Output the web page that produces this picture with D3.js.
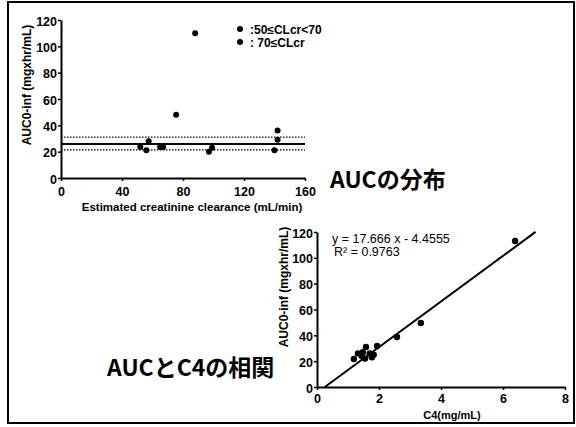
<!DOCTYPE html>
<html lang="ja">
<head>
<meta charset="UTF-8">
<title>AUC</title>
<script src="https://d3js.org/d3.v7.min.js"></script>
<style>
  body { margin: 0; background: #fff; }
  svg text { font-family: "Liberation Sans", Arial, sans-serif; font-weight: bold; fill: #000; }
  svg text.plain { font-weight: normal; }
  .jp { font-family: "Noto Sans CJK JP", sans-serif; }
</style>
</head>
<body>
<script>
// top chart: AUC vs estimated creatinine clearance
const clcrLow = [52, 56, 57.5, 65, 67];
const aucLow = [23.5, 21, 28, 23.5, 23.5];
const clcrHigh = [75.5, 88, 97, 99, 140, 142, 142];
const aucHigh = [48, 110, 20, 23, 21, 36, 29];
const meanLine = 25.8;
const sdLines = [31, 21.3];
const legendLabels = [":50≤CLcr<70", ": 70≤CLcr"];
const topXTicks = [0, 40, 80, 120, 160];
const yTicks = [0, 20, 40, 60, 80, 100, 120];

// bottom chart: AUC vs C4
const c4 = [1.19, 1.32, 1.44, 1.48, 1.55, 1.58, 1.7, 1.77, 1.83, 1.94, 2.58, 3.35, 6.39];
const aucC4 = [21.7, 26, 24, 27, 22, 31, 26, 23, 25, 31.7, 38.7, 49.5, 113];
const slope = 17.666, intercept = -4.4555;
const botXTicks = [0, 2, 4, 6, 8];

const W = 576, H = 427;
const svg = d3.select('body').append('svg').attr('width', W).attr('height', H);

svg.append('rect').attr('x', 8).attr('y', 2).attr('width', 566).attr('height', 421)
  .attr('fill', 'none').attr('stroke', '#000').attr('stroke-width', 2);

function axes(g, x, y, xt, yt, pad) {
  const xa = g.append('g').attr('transform', `translate(0,${y.range()[0]})`)
    .call(d3.axisBottom(x).tickValues(xt).tickSize(3).tickSizeOuter(0).tickPadding(pad));
  const ya = g.append('g').attr('transform', `translate(${x.range()[0]},0)`)
    .call(d3.axisLeft(y).tickValues(yt).tickSize(3).tickSizeOuter(0).tickPadding(1));
  [xa, ya].forEach(a => {
    a.select('.domain').attr('stroke-width', 2);
    a.selectAll('.tick line').attr('stroke-width', 1.5);
    a.selectAll('text').attr('font-size', 12.5);
  });
  ya.selectAll('text').attr('dy', '0.4em');
}

// top
const x1 = d3.scaleLinear().domain([0, 160]).range([61, 305]);
const y1 = d3.scaleLinear().domain([0, 120]).range([178, 20]);
const g1 = svg.append('g');
axes(g1, x1, y1, topXTicks, yTicks, 6);

sdLines.forEach(v => g1.append('line').attr('x1', x1(0)).attr('x2', x1(160))
  .attr('y1', y1(v)).attr('y2', y1(v)).attr('stroke', '#000')
  .attr('stroke-width', 1.3).attr('stroke-dasharray', '1.5,1.5'));
g1.append('line').attr('x1', x1(0)).attr('x2', x1(160))
  .attr('y1', y1(meanLine)).attr('y2', y1(meanLine)).attr('stroke', '#000').attr('stroke-width', 2);

g1.selectAll('.lo').data(d3.zip(clcrLow, aucLow)).enter().append('circle')
  .attr('cx', d => x1(d[0])).attr('cy', d => y1(d[1])).attr('r', 3).attr('fill', '#000');
g1.selectAll('.hi').data(d3.zip(clcrHigh, aucHigh)).enter().append('circle')
  .attr('cx', d => x1(d[0])).attr('cy', d => y1(d[1])).attr('r', 3).attr('fill', '#000');

legendLabels.forEach((t, i) => {
  g1.append('circle').attr('cx', 240).attr('cy', 29 + i * 13).attr('r', 3).attr('fill', '#000');
  g1.append('text').attr('x', 250).attr('y', 34 + i * 13).attr('font-size', 12).text(t);
});

g1.append('text').attr('transform', 'translate(31,85) rotate(-90)').attr('text-anchor', 'middle')
  .attr('font-size', 12).text('AUC0-inf (mgxhr/mL)');
g1.append('text').attr('x', 192).attr('y', 211).attr('text-anchor', 'middle')
  .attr('font-size', 11.5).text('Estimated creatinine clearance (mL/min)');
svg.append('text').attr('class', 'jp').attr('x', 330).attr('y', 188)
  .attr('font-size', 23).text('AUCの分布');

// bottom
const x2 = d3.scaleLinear().domain([0, 8]).range([317, 565]);
const y2 = d3.scaleLinear().domain([0, 120]).range([387, 232]);
const g2 = svg.append('g');
axes(g2, x2, y2, botXTicks, yTicks, 4);

const xEnd = 7.05;
g2.append('line').attr('x1', x2(-intercept / slope)).attr('y1', y2(0))
  .attr('x2', x2(xEnd)).attr('y2', y2(slope * xEnd + intercept))
  .attr('stroke', '#000').attr('stroke-width', 2);

g2.selectAll('.pt').data(d3.zip(c4, aucC4)).enter().append('circle')
  .attr('cx', d => x2(d[0])).attr('cy', d => y2(d[1])).attr('r', 3.2).attr('fill', '#000');

g2.append('text').attr('class', 'plain').attr('x', 332).attr('y', 243).attr('font-size', 12.5)
  .text('y = 17.666 x - 4.4555');
g2.append('text').attr('class', 'plain').attr('x', 334).attr('y', 256).attr('font-size', 12.5)
  .text('R² = 0.9763');
g2.append('text').attr('transform', 'translate(288,287) rotate(-90)').attr('text-anchor', 'middle')
  .attr('font-size', 12).text('AUC0-inf (mgxhr/mL)');
g2.append('text').attr('x', 452).attr('y', 419).attr('text-anchor', 'middle')
  .attr('font-size', 11).text('C4(mg/mL)');
svg.append('text').attr('class', 'jp').attr('x', 107).attr('y', 376)
  .attr('font-size', 23).text('AUCとC4の相関');
</script>
</body>
</html>
